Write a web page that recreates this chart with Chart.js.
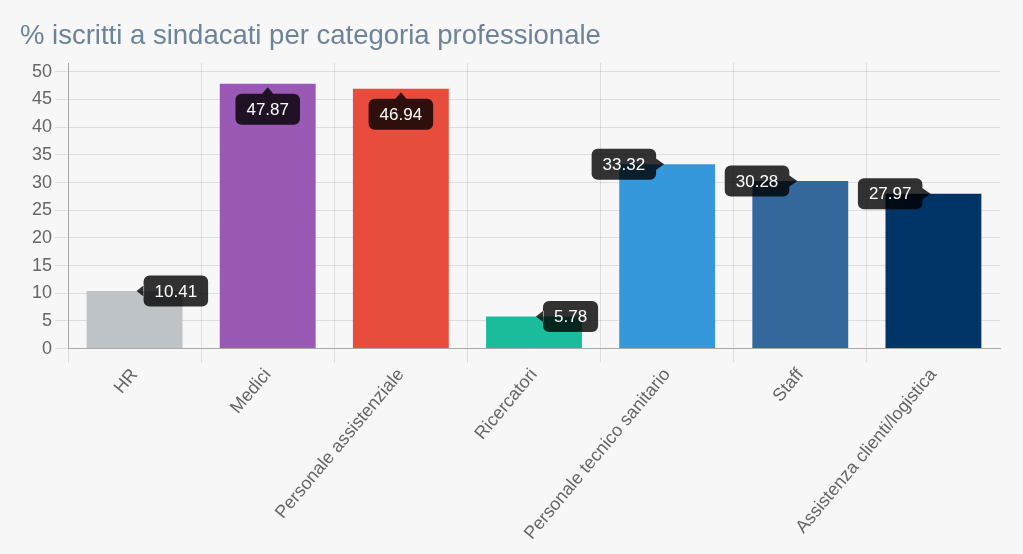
<!DOCTYPE html>
<html lang="it">
<head>
<meta charset="utf-8">
<title>% iscritti a sindacati per categoria professionale</title>
<script src="https://cdn.jsdelivr.net/npm/chart.js@4.4.1/dist/chart.umd.min.js"></script>
<style>
    html, body { margin: 0; padding: 0; background: #f7f7f7; }
    #wrap { position: relative; width: 1023px; height: 554px; }
</style>
</head>
<body>
<div id="wrap"><canvas id="barChart"></canvas></div>
<script>
let categories = ['HR', 'Medici', 'Personale assistenziale', 'Ricercatori', 'Personale tecnico sanitario', 'Staff', 'Assistenza clienti/logistica'];
let iscritti = [10.41, 47.87, 46.94, 5.78, 33.32, 30.28, 27.97];
let yTicks = [0, 5, 10, 15, 20, 25, 30, 35, 40, 45, 50];
let barColors = ['#bdc3c7', '#9b59b6', '#e74c3c', '#1abc9c', '#3498db', '#34679b', '#003366'];

const FONT = '"Helvetica Neue", Helvetica, Arial, "Liberation Sans", sans-serif';

// draws the always-visible value boxes (like old showAllTooltips)
const valueTips = {
    id: 'valueTips',
    afterDatasetsDraw(chart) {
        let ctx = chart.ctx;
        let area = chart.chartArea;
        let midX = (area.left + area.right) / 2;
        let meta = chart.getDatasetMeta(0);
        ctx.save();
        ctx.font = '17px ' + FONT;
        ctx.textAlign = 'center';
        ctx.textBaseline = 'middle';
        meta.data.forEach(function (bar, i) {
            let text = iscritti[i].toFixed(2);
            let w = ctx.measureText(text).width + 22;
            let h = 31;
            let caret = 6;
            let x = bar.x, y = bar.y;
            let bx, by, mode;
            if (y - area.top < h) {
                mode = 'top';
                bx = x - w / 2;
                by = y + 3 + caret + 1;
            } else if (x <= midX) {
                mode = 'left';
                bx = x + 2 + caret + 1;
                by = y - h / 2;
            } else {
                mode = 'right';
                bx = x - 3 - caret - 2 - w;
                by = y - h / 2;
            }
            ctx.fillStyle = 'rgba(0,0,0,0.8)';
            ctx.beginPath();
            ctx.roundRect(bx, by, w, h, 6);
            if (mode === 'top') {
                ctx.moveTo(x - caret, by + 0.5);
                ctx.lineTo(x, by - caret - 0.5);
                ctx.lineTo(x + caret, by + 0.5);
            } else if (mode === 'left') {
                ctx.moveTo(bx + 0.5, y - caret);
                ctx.lineTo(bx - caret - 1, y);
                ctx.lineTo(bx + 0.5, y + caret);
            } else {
                ctx.moveTo(bx + w - 0.5, y - caret);
                ctx.lineTo(bx + w + caret + 2, y);
                ctx.lineTo(bx + w - 0.5, y + caret);
            }
            ctx.fill();
            ctx.fillStyle = '#ffffff';
            ctx.fillText(text, bx + w / 2, by + h / 2 + 1);
        });
        ctx.restore();
    }
};

let barCtx = document.getElementById('barChart').getContext('2d');
let barChart = new Chart(barCtx, {
    type: 'bar',
    data: {
        labels: categories,
        datasets: [{
            label: '% iscritti',
            data: iscritti,
            backgroundColor: barColors,
            borderWidth: 0,
            barPercentage: 0.9,
            categoryPercentage: 0.8
        }]
    },
    options: {
        responsive: true,
        maintainAspectRatio: false,
        animation: false,
        layout: {
            padding: { left: 20, right: 23, top: 10, bottom: 8 }
        },
        plugins: {
            legend: { display: false },
            tooltip: { enabled: false },
            title: {
                display: true,
                text: '% iscritti a sindacati per categoria professionale',
                align: 'start',
                color: '#6d8399',
                font: { family: FONT, size: 27.5, weight: 'normal', lineHeight: 1.2 },
                padding: { top: 10, bottom: 10 }
            }
        },
        scales: {
            x: {
                grid: {
                    offset: true,
                    tickLength: 14,
                    color: function (c) {
                        return c.type === 'tick' ? 'rgba(0,0,0,0.1)' : 'rgba(0,0,0,0)';
                    }
                },
                border: { color: '#a8a8a8' },
                ticks: {
                    maxRotation: 50,
                    minRotation: 50,
                    padding: 2,
                    color: '#666',
                    font: { family: FONT, size: 18 }
                }
            },
            y: {
                min: 0,
                max: 51.6,
                afterBuildTicks: function (scale) {
                    scale.ticks = yTicks.map(v => ({ value: v }));
                },
                afterFit: function (scale) {
                    scale.width = 48;
                },
                grid: {
                    tickLength: 13,
                    color: 'rgba(0,0,0,0.1)'
                },
                border: { color: '#a8a8a8' },
                ticks: {
                    stepSize: 5,
                    padding: 3,
                    color: '#666',
                    font: { family: FONT, size: 18 }
                }
            }
        }
    },
    plugins: [valueTips]
});
</script>
</body>
</html>
